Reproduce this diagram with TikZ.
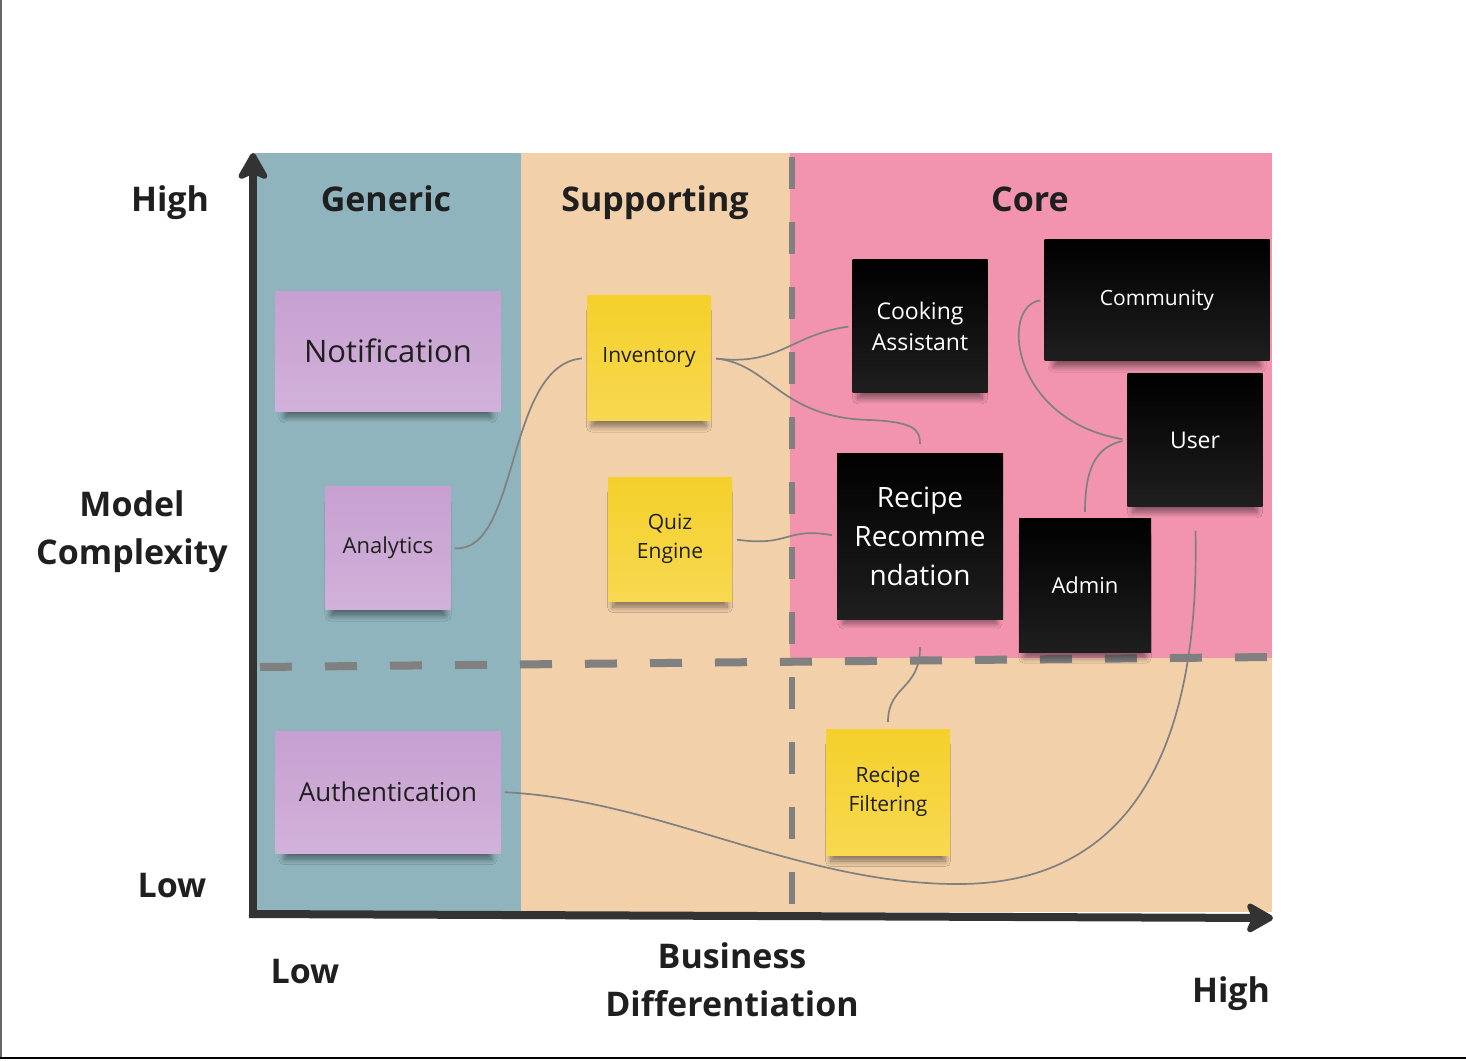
\documentclass[tikz,border=0pt]{standalone}
\usepackage{fontspec}
\setmainfont{Open Sans}
\usetikzlibrary{arrows.meta,shadows.blur}

\definecolor{generic}{HTML}{8FB4BD}
\definecolor{support}{HTML}{F2D0A9}
\definecolor{core}{HTML}{F294AE}
\definecolor{lilac}{HTML}{C7A0D1}
\definecolor{lemon}{HTML}{F5D02A}
\definecolor{axis}{HTML}{333333}
\definecolor{dashgray}{HTML}{808080}
\definecolor{wire}{HTML}{808080}

\tikzset{
  note/.style={inner sep=0pt, align=center, text=black!88,
    blur shadow={shadow xshift=0pt, shadow yshift=-12pt, shadow scale=.92,
      shadow blur radius=6pt, shadow blur steps=10, shadow opacity=45}},
  lilacnote/.style={note, top color=lilac, bottom color=lilac!82!white},
  lemonnote/.style={note, top color=lemon, bottom color=lemon!82!white},
  darknote/.style={note, top color=black, bottom color=black!88!white, text=white},
  heading/.style={font=\bfseries\fontsize{34}{48}\selectfont, text=black!88, align=center},
  wire/.style={draw=wire, line width=1.7pt},
  zone/.style={draw=dashgray, line width=#1, dash pattern=on 32pt off 33pt}
}

\begin{document}
\begin{tikzpicture}[x=1pt,y=-1pt]

\useasboundingbox (0,0) rectangle (1466,1060);
\fill[white] (0,0) rectangle (1466,1060);
\draw[black!60, line width=2pt] (1,0) -- (1,1058);
\draw[black, line width=2pt] (0,1058) -- (1466,1058);

% fields
\fill[support] (253,153) rectangle (1272,912);
\fill[generic] (253,153) rectangle (521,912);
\fill[core] (790,153) rectangle (1272,658);
\draw[zone=6pt] (792,157) -- (792,908);
\draw[zone=8pt] (260,667) -- (1272,657);

% axes
\draw[axis, line width=8pt, -{Stealth[length=32pt, width=36pt, inset=8pt, round]}]
  (253,918) -- (253,153);
\draw[axis, line width=8pt, -{Stealth[length=32pt, width=36pt, inset=8pt, round]}]
  (249,914) -- (1273,918);

% labels
\node[heading, anchor=base] (hiY) at (170,211) {High};
\node[heading] (ylabel) at (132,532) {Model\\Complexity};
\node[heading, anchor=base] (loY) at (172,897) {Low};
\node[heading, anchor=base] (loX) at (305,983) {Low};
\node[heading] (xlabel) at (732,980) {Business\\Differentiation};
\node[heading, anchor=base] (hiX) at (1231,1002) {High};
\node[heading, anchor=base] (generic) at (386,211) {Generic};
\node[heading, anchor=base] (supporting) at (655,211) {Supporting};
\node[heading, anchor=base] (core) at (1030,211) {Core};

% generic
\node[lilacnote, minimum width=225, minimum height=120,
  font=\fontsize{31}{38}\selectfont] (notif) at (388,351) {Notification};
\node[lilacnote, minimum width=125, minimum height=123,
  font=\fontsize{22}{29}\selectfont] (analytics) at (388,548) {Analytics};
\node[lilacnote, minimum width=225, minimum height=122,
  font=\fontsize{26}{32}\selectfont] (auth) at (388,792) {Authentication};

% supporting
\node[lemonnote, minimum width=124, minimum height=125,
  font=\fontsize{21}{29}\selectfont] (inventory) at (649,358) {Inventory};
\node[lemonnote, minimum width=124, minimum height=124,
  font=\fontsize{21}{29}\selectfont] (quiz) at (670,539) {Quiz\\Engine};
\node[lemonnote, minimum width=124, minimum height=126,
  font=\fontsize{21}{29}\selectfont] (filtering) at (888,792) {Recipe\\Filtering};

% core
\node[darknote, minimum width=135, minimum height=133,
  font=\fontsize{23}{31}\selectfont] (cooking) at (920,326) {Cooking\\Assistant};
\node[darknote, minimum width=225, minimum height=121,
  font=\fontsize{21}{28}\selectfont] (community) at (1157,300) {Community};
\node[darknote, minimum width=135, minimum height=133,
  font=\fontsize{23}{30}\selectfont] (user) at (1195,440) {User};
\node[darknote, minimum width=166, minimum height=166,
  font=\fontsize{28}{39}\selectfont] (recommend) at (920,536) {Recipe\\Recomme\\ndation};
\node[darknote, minimum width=132, minimum height=134,
  font=\fontsize{22}{30}\selectfont] (admin) at (1085,585) {Admin};

% links
\draw[wire, shorten <=4pt, shorten >=5pt] (analytics.east)
  .. controls (520,553) and (505,365) .. (inventory.west);
\draw[wire, shorten <=5pt, shorten >=4pt] (inventory.east)
  .. controls (780,366) and (790,335) .. (cooking.west);
\draw[wire, shorten <=5pt, shorten >=9pt] (inventory.east)
  .. controls (770,364) and (780,418) .. (870,420)
  .. controls (915,422) and (920,430) .. (recommend.north);
\draw[wire, shorten <=5pt, shorten >=5pt] (quiz.east)
  .. controls (790,547) and (785,527) .. (recommend.west);
\draw[wire, shorten <=28pt, shorten >=7pt] (recommend.south)
  .. controls (920,690) and (888,685) .. (filtering.north);
\draw[wire, shorten <=4pt, shorten >=5pt] (community.west)
  .. controls (1000,305) and (1010,420) .. (user.west);
\draw[wire, shorten <=6pt, shorten >=5pt] (admin.north)
  .. controls (1085,470) and (1095,447) .. (user.west);
\draw[wire, shorten <=4pt, shorten >=24pt] (auth.east)
  .. controls (660,800) and (800,885) .. (960,884)
  .. controls (1160,883) and (1199,700) .. (user.south);

\end{tikzpicture}
\end{document}
